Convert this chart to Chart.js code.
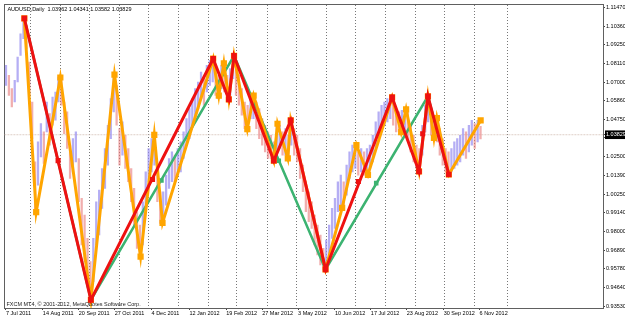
<!DOCTYPE html>
<html>
<head>
<meta charset="utf-8">
<script src="https://cdn.jsdelivr.net/npm/chart.js@4.4.1/dist/chart.umd.min.js"></script>
<style>
  html, body { margin: 0; padding: 0; background: #fff; }
</style>
</head>
<body>
<canvas id="chart" width="625" height="319"></canvas>
<script>
// AUDUSD daily with three zigzag overlays (MT4 screenshot)
// x values are calendar days counted from 7 Jul 2011

const symbolTitle = 'AUDUSD,Daily  1.03962 1.04341 1.03582 1.03829';
const footerText = 'FXCM MT4, \u00a9 2001-2012, MetaQuotes Software Corp.';

const dateLabels = ['7 Jul 2011', '14 Aug 2011', '20 Sep 2011', '27 Oct 2011', '4 Dec 2011', '12 Jan 2012',
  '19 Feb 2012', '27 Mar 2012', '3 May 2012', '10 Jun 2012', '17 Jul 2012', '23 Aug 2012', '30 Sep 2012', '6 Nov 2012'];
const dateDays = [0, 38, 75, 112, 150, 189, 227, 264, 301, 339, 376, 413, 451, 488];

// month separators (dotted verticals)
const monthDays = [25, 56, 86, 117, 147, 178, 209, 238, 269, 299, 330, 360, 391, 422, 452, 483, 517];

const priceTicks = [1.11470, 1.10360, 1.09250, 1.08110, 1.07000, 1.05860, 1.04750, 1.03640, 1.02500,
  1.01390, 1.00250, 0.99140, 0.98000, 0.96890, 0.95780, 0.94640, 0.93530];
const currentPrice = 1.03829;

// daily bars, sampled every 3 days
const barStep = 3;
const barHigh = [1.080, 1.074, 1.066, 1.071, 1.085, 1.099, 1.108, 1.104, 1.082, 1.058, 1.022, 1.034,
  1.045, 1.040, 1.058, 1.051, 1.061, 1.064, 1.073, 1.072, 1.058, 1.052, 1.032, 1.036, 1.040, 1.024,
  1.000, 0.990, 0.976, 0.962, 0.976, 0.998, 1.005, 1.018, 1.030, 1.044, 1.060, 1.074, 1.068, 1.042,
  1.046, 1.038, 1.030, 1.018, 1.006, 0.992, 0.984, 0.998, 1.016, 1.030, 1.036, 1.038, 1.020, 1.004,
  1.004, 1.014, 1.024, 1.028, 1.026, 1.030, 1.034, 1.040, 1.048, 1.054, 1.060, 1.066, 1.070, 1.076,
  1.072, 1.080, 1.083, 1.084, 1.078, 1.074, 1.080, 1.080, 1.074, 1.078, 1.086, 1.082, 1.074, 1.066,
  1.058, 1.056, 1.062, 1.062, 1.058, 1.054, 1.048, 1.044, 1.040, 1.038, 1.034, 1.045, 1.044, 1.040,
  1.042, 1.038, 1.047, 1.042, 1.038, 1.030, 1.020, 1.010, 1.004, 0.998, 0.990, 0.984, 0.978, 0.970,
  0.975, 0.984, 0.994, 1.000, 1.010, 1.014, 1.010, 1.020, 1.028, 1.032, 1.033, 1.028, 1.030, 1.028,
  1.030, 1.032, 1.038, 1.046, 1.052, 1.056, 1.058, 1.060, 1.061, 1.060, 1.054, 1.052, 1.053, 1.054,
  1.052, 1.044, 1.038, 1.032, 1.030, 1.044, 1.056, 1.061, 1.054, 1.048, 1.048, 1.042, 1.036, 1.030,
  1.028, 1.030, 1.034, 1.036, 1.038, 1.042, 1.040, 1.044, 1.047, 1.045, 1.047, 1.0434];
const barLow = [1.068, 1.062, 1.055, 1.058, 1.070, 1.086, 1.096, 1.090, 1.062, 1.036, 0.993, 1.008,
  1.025, 1.021, 1.040, 1.032, 1.044, 1.047, 1.058, 1.056, 1.039, 1.030, 1.012, 1.016, 1.022, 0.998,
  0.972, 0.962, 0.948, 0.939, 0.950, 0.972, 0.978, 0.994, 1.006, 1.020, 1.036, 1.052, 1.044, 1.020,
  1.026, 1.018, 1.010, 0.998, 0.984, 0.970, 0.965, 0.972, 0.994, 1.010, 1.016, 1.020, 0.998, 0.985,
  0.986, 0.996, 1.006, 1.010, 1.010, 1.014, 1.016, 1.024, 1.032, 1.036, 1.044, 1.050, 1.054, 1.060,
  1.056, 1.064, 1.068, 1.070, 1.062, 1.060, 1.066, 1.064, 1.060, 1.062, 1.072, 1.062, 1.056, 1.050,
  1.042, 1.042, 1.048, 1.048, 1.042, 1.036, 1.032, 1.028, 1.024, 1.024, 1.022, 1.028, 1.030, 1.026,
  1.026, 1.024, 1.032, 1.026, 1.022, 1.012, 1.004, 0.992, 0.986, 0.982, 0.972, 0.966, 0.960, 0.957,
  0.958, 0.966, 0.976, 0.982, 0.992, 0.996, 0.994, 1.002, 1.012, 1.016, 1.018, 1.014, 1.016, 1.014,
  1.015, 1.018, 1.022, 1.030, 1.036, 1.040, 1.044, 1.046, 1.048, 1.044, 1.040, 1.040, 1.040, 1.040,
  1.036, 1.028, 1.022, 1.018, 1.016, 1.026, 1.040, 1.046, 1.038, 1.036, 1.034, 1.026, 1.020, 1.016,
  1.015, 1.016, 1.018, 1.020, 1.022, 1.026, 1.024, 1.028, 1.032, 1.030, 1.034, 1.0358];

// zigzag turning points (day, price)
const greenDays = [18.9, 87.5, 235.0, 329.3, 434.8, 456.3];
const greenPrices = [1.1083, 0.9390, 1.0857, 0.9573, 1.0614, 1.0144];

const redDays = [18.9, 87.5, 213.5, 229.6, 235.0, 276.0, 293.4, 329.3, 397.9, 425.6, 434.8, 456.3];
const redPrices = [1.1083, 0.9390, 1.0840, 1.0596, 1.0857, 1.0227, 1.0469, 0.9573, 1.0608, 1.0162, 1.0614, 1.0144];

const orangeDays = [18.9, 31.1, 56.0, 87.5, 111.8, 138.7, 152.8, 161.3, 213.5, 219.3, 224.5, 229.6, 235.0,
  248.7, 255.2, 276.0, 279.8, 290.4, 293.4, 329.3, 346.4, 361.1, 373.0, 397.9, 407.2, 412.3, 425.6,
  434.8, 441.0, 444.0, 456.3, 489.1];
const orangePrices = [1.1083, 0.9918, 1.0727, 0.9390, 1.0744, 0.9650, 1.0382, 0.9853, 1.0840, 1.0618,
  1.0812, 1.0596, 1.0857, 1.0417, 1.0618, 1.0227, 1.0449, 1.0241, 1.0469, 0.9573, 0.9943, 1.0321,
  1.0142, 1.0608, 1.0399, 1.0536, 1.0162, 1.0614, 1.0364, 1.0483, 1.0144, 1.0469];

// extra square markers sitting on the legs
const redMarkDays = [53.7, 151.0, 363.1, 429.4];
const redMarkPrices = [1.0227, 1.0114, 1.0102, 1.0389];
const greenMarkDays = [160.2, 281.1, 381.5];
const greenMarkPrices = [1.0108, 1.0227, 1.0092];

const xMin = -1.64, xMax = 615.2;
const yMin = 0.93411, yMax = 1.11666;
const labelFont = { family: '"Liberation Sans", Arial, sans-serif', size: 5.5 };

function points(days, prices) {
  return days.map((d, i) => ({ x: d, y: prices[i] }));
}

const barColors = barHigh.map((h, i) => {
  const mid = (h + barLow[i]) / 2;
  const prev = i ? (barHigh[i - 1] + barLow[i - 1]) / 2 : mid;
  return mid >= prev ? 'rgba(150, 140, 240, 0.7)' : 'rgba(232, 120, 120, 0.6)';
});

function zigzag(label, days, prices, color, width, radius, order) {
  return {
    type: 'line',
    label: label,
    data: points(days, prices),
    borderColor: color,
    backgroundColor: color,
    borderWidth: width,
    pointStyle: 'rect',
    pointRadius: radius,
    pointBorderWidth: 0,
    pointBackgroundColor: color,
    tension: 0,
    order: order
  };
}

function marks(label, days, prices, color, radius, order) {
  return {
    type: 'line',
    label: label,
    data: points(days, prices),
    showLine: false,
    pointStyle: 'rect',
    pointRadius: radius,
    pointBorderWidth: 0,
    pointBackgroundColor: color,
    order: order
  };
}

const captions = {
  id: 'captions',
  afterDraw(chart) {
    const { ctx, chartArea } = chart;
    ctx.save();
    ctx.font = '5.5px "Liberation Sans", Arial, sans-serif';
    ctx.fillStyle = '#000';
    ctx.textBaseline = 'top';
    ctx.fillText(symbolTitle, chartArea.left + 3, chartArea.top + 2.5);
    ctx.fillStyle = '#222';
    ctx.textBaseline = 'bottom';
    ctx.fillText(footerText, chartArea.left + 2, chartArea.bottom - 0.5);
    ctx.restore();
  }
};

new Chart(document.getElementById('chart'), {
  type: 'bar',
  data: {
    datasets: [
      {
        type: 'line',
        label: 'bid',
        data: [{ x: xMin, y: currentPrice }, { x: xMax, y: currentPrice }],
        borderColor: 'rgba(215, 195, 185, 0.8)',
        borderWidth: 1,
        borderDash: [2, 1],
        pointRadius: 0,
        order: 20
      },
      {
        type: 'bar',
        label: 'AUDUSD',
        data: barHigh.map((h, i) => ({ x: i * barStep, y: [barLow[i], h] })),
        backgroundColor: barColors,
        barThickness: 1.6,
        order: 10
      },
      zigzag('ZigZag 3', greenDays, greenPrices, '#3cb371', 2.5, 2.6, 3),
      marks('ZigZag 3 marks', greenMarkDays, greenMarkPrices, '#3cb371', 3.2, 3),
      zigzag('ZigZag 2', orangeDays, orangePrices, '#ffa500', 3, 4.4, 2),
      zigzag('ZigZag 1', redDays, redPrices, '#ee1111', 3, 4, 1),
      marks('ZigZag 1 marks', redMarkDays, redMarkPrices, '#ee1111', 3.6, 1)
    ]
  },
  options: {
    responsive: false,
    animation: false,
    devicePixelRatio: 1,
    layout: { padding: { top: 1, left: 1, right: 0, bottom: 0 } },
    plugins: {
      legend: { display: false },
      tooltip: { enabled: false }
    },
    scales: {
      x: {
        type: 'linear',
        position: 'bottom',
        offset: false,
        min: xMin,
        max: xMax,
        afterBuildTicks: s => { s.ticks = dateDays.map(v => ({ value: v })); },
        afterFit: s => { s.height = 11; },
        ticks: {
          callback: (v, i) => dateLabels[i],
          align: 'start',
          autoSkip: false,
          maxRotation: 0,
          padding: 0,
          color: '#000',
          font: labelFont
        },
        grid: { offset: false, drawOnChartArea: false, tickLength: 2, color: '#444' },
        border: { display: true, color: '#606060' }
      },
      xGrid: {
        type: 'linear',
        position: 'top',
        offset: false,
        min: xMin,
        max: xMax,
        afterBuildTicks: s => { s.ticks = monthDays.map(v => ({ value: v })); },
        afterFit: s => { s.height = 0; },
        ticks: { display: false },
        grid: { offset: false, drawTicks: false, color: '#777', lineWidth: 1 },
        border: { display: true, color: '#606060', dash: [1, 2] }
      },
      y: {
        position: 'right',
        min: yMin,
        max: yMax,
        afterBuildTicks: s => { s.ticks = priceTicks.concat([currentPrice]).map(v => ({ value: v })); },
        afterFit: s => { s.width = 22; },
        ticks: {
          callback: v => v.toFixed(5),
          autoSkip: false,
          padding: 1,
          font: labelFont,
          color: ctx => (ctx.tick && ctx.tick.value === currentPrice) ? '#fff' : '#000',
          showLabelBackdrop: ctx => !!(ctx.tick && ctx.tick.value === currentPrice),
          backdropColor: '#000',
          backdropPadding: 1
        },
        grid: { drawOnChartArea: false, tickLength: 2, color: '#444' },
        border: { display: true, color: '#606060' }
      },
      yLeft: {
        position: 'left',
        afterFit: s => { s.width = 0; },
        ticks: { display: false },
        grid: { display: false, drawTicks: false },
        border: { display: true, color: '#606060' }
      }
    }
  },
  plugins: [captions]
});
</script>
</body>
</html>
